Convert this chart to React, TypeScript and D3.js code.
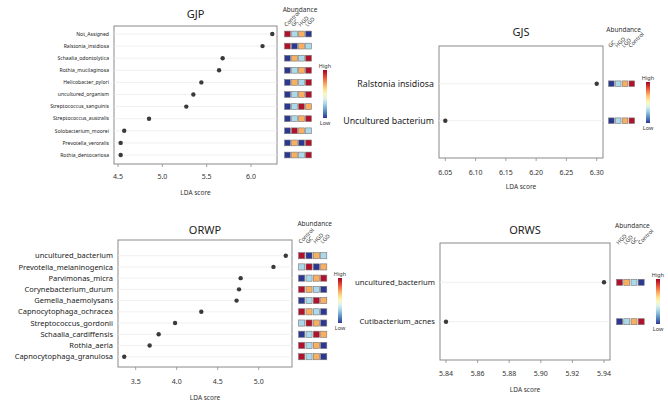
import React from 'react';
import * as d3 from 'd3';

// ---- data ----
const gjpTaxa = ['Not_Assigned', 'Ralstonia_insidiosa', 'Schaalia_odontolytica', 'Rothia_mucilaginosa', 'Helicobacter_pylori', 'uncultured_organism', 'Streptococcus_sanguinis', 'Streptococcus_australis', 'Solobacterium_moorei', 'Prevotella_veroralis', 'Rothia_dentocariosa'];
const gjpScores = [6.24, 6.13, 5.68, 5.64, 5.44, 5.35, 5.27, 4.85, 4.57, 4.53, 4.53];
const gjpGroups = ['Control', 'GC', 'HGD', 'LGD'];
const gjpLevels = [[3, 1, 2, 0], [3, 0, 2, 1], [0, 2, 1, 3], [0, 1, 2, 3], [0, 2, 1, 3], [0, 1, 2, 3], [0, 1, 3, 2], [0, 1, 2, 3], [0, 3, 2, 1], [0, 2, 0, 3], [0, 2, 1, 3]];
const gjpTicks = [4.5, 5.0, 5.5, 6.0];

const gjsTaxa = ['Ralstonia insidiosa', 'Uncultured bacterium'];
const gjsScores = [6.30, 6.05];
const gjsGroups = ['GC', 'HGD', 'LGD', 'Control'];
const gjsLevels = [[0, 1, 2, 3], [0, 1, 2, 3]];
const gjsTicks = [6.05, 6.10, 6.15, 6.20, 6.25, 6.30];

const orwpTaxa = ['uncultured_bacterium', 'Prevotella_melaninogenica', 'Parvimonas_micra', 'Corynebacterium_durum', 'Gemella_haemolysans', 'Capnocytophaga_ochracea', 'Streptococcus_gordonii', 'Schaalia_cardiffensis', 'Rothia_aeria', 'Capnocytophaga_granulosa'];
const orwpScores = [5.33, 5.18, 4.78, 4.76, 4.73, 4.30, 3.98, 3.78, 3.67, 3.36];
const orwpGroups = ['Control', 'GC', 'HGD', 'LGD'];
const orwpLevels = [[3, 0, 2, 1], [1, 3, 0, 2], [0, 1, 2, 3], [3, 2, 1, 0], [0, 1, 3, 2], [3, 2, 1, 0], [1, 3, 2, 0], [0, 1, 3, 2], [3, 1, 2, 0], [3, 1, 2, 0]];
const orwpTicks = [3.5, 4.0, 4.5, 5.0];

const orwsTaxa = ['uncultured_bacterium', 'Cutibacterium_acnes'];
const orwsScores = [5.94, 5.84];
const orwsGroups = ['HGD', 'LGD', 'GC', 'Control'];
const orwsLevels = [[3, 2, 1, 0], [0, 1, 2, 3]];
const orwsTicks = [5.84, 5.86, 5.88, 5.90, 5.92, 5.94];

const levelColors = ['#2b3790', '#abd9e9', '#f9ae60', '#b1112b'];
const FONT = '"Noto Sans", "Open Sans", sans-serif';

type PanelProps = {
  id: string, title: string, taxa: string[], scores: number[], groups: string[], levels: number[][],
  ticks: number[], fmt: string,
  box: [number, number, number, number], tickPx: [number, number], rows: [number, number],
  labelSize: number, titleY: number, heatX: number, cell: number, abundY: number, colLabelY: number,
  legend: [number, number, number], tickY: number, axisTitleY: number
}

const Legend: React.FC<{ id: string, x: number, y0: number, y1: number }> = ({ id, x, y0, y1 }) => (
  <g>
    <rect x={x} y={y0} width={4} height={y1 - y0} fill={`url(#grad-${id})`} />
    <text x={x + 2} y={y0 - 2} fontSize={5.5} textAnchor="middle" fill="#333">High</text>
    <text x={x + 2} y={y1 + 7} fontSize={5.5} textAnchor="middle" fill="#333">Low</text>
  </g>
)

const Panel: React.FC<PanelProps> = (p) => {
  const [bx0, bx1, by0, by1] = p.box
  const x = d3.scaleLinear().domain([p.ticks[0], p.ticks[p.ticks.length - 1]]).range(p.tickPx)
  const y = d3.scalePoint<string>().domain(p.taxa).range(p.rows)
  const fmt = d3.format(p.fmt)
  const heatW = p.cell * p.groups.length
  return (
    <g fontFamily={FONT}>
      <text x={(bx0 + bx1) / 2} y={p.titleY} fontSize={11} textAnchor="middle" fill="#222">{p.title}</text>
      <rect x={bx0} y={by0} width={bx1 - bx0} height={by1 - by0} fill="#fff" stroke="#8a8a8a" strokeWidth={1} />
      {p.taxa.map((t, i) => (
        <g key={t}>
          <line x1={bx0} x2={bx1} y1={y(t)} y2={y(t)} stroke="#ececec" strokeWidth={0.8} />
          <text x={bx0 - 5} y={y(t)} dy="0.35em" fontSize={p.labelSize} textAnchor="end" fill="#222">{t}</text>
          <circle cx={x(p.scores[i])} cy={y(t)} r={2.2} fill="#3a3a3a" />
          {p.levels[i].map((lv, j) => (
            <rect key={j} x={p.heatX + j * p.cell + 0.6} y={(y(t) as number) - p.cell / 2 + 0.6}
              width={p.cell - 1.2} height={p.cell - 1.2} fill={levelColors[lv]} stroke="#777" strokeWidth={0.6} />
          ))}
        </g>
      ))}
      {p.ticks.map(t => (
        <g key={t}>
          <line x1={x(t)} x2={x(t)} y1={by1} y2={by1 + 3} stroke="#8a8a8a" strokeWidth={0.8} />
          <text x={x(t)} y={p.tickY} dy="0.35em" fontSize={7} textAnchor="middle" fill="#333">{fmt(t)}</text>
        </g>
      ))}
      <text x={(bx0 + bx1) / 2} y={p.axisTitleY} dy="0.35em" fontSize={6.5} textAnchor="middle" fill="#333">LDA score</text>
      <text x={p.heatX + heatW / 2 + 2} y={p.abundY} dy="0.35em" fontSize={6.5} textAnchor="middle" fill="#333">Abundance</text>
      {p.groups.map((g, j) => (
        <text key={g} transform={`translate(${p.heatX + j * p.cell + p.cell / 2 - 1},${p.colLabelY}) rotate(-45)`}
          fontSize={5.5} fill="#333">{g}</text>
      ))}
      <Legend id={p.id} x={p.legend[0]} y0={p.legend[1]} y1={p.legend[2]} />
    </g>
  )
}

const App: React.FC = () => {
  const stops = d3.range(0, 1.0001, 0.1)
  return (
    <svg width={668} height={410} style={{ position: 'absolute', left: 0, top: 0, background: '#fff' }}>
      <defs>
        {['gjp', 'gjs', 'orwp', 'orws'].map(id => (
          <linearGradient key={id} id={`grad-${id}`} x1="0" y1="1" x2="0" y2="0">
            {stops.map(s => <stop key={s} offset={s} stopColor={d3.interpolateRdYlBu(1 - s)} />)}
          </linearGradient>
        ))}
      </defs>
      <Panel id="gjp" title="GJP" taxa={gjpTaxa} scores={gjpScores} groups={gjpGroups} levels={gjpLevels}
        ticks={gjpTicks} fmt=".1f" box={[114, 277, 26, 164]} tickPx={[118, 251]} rows={[34, 155]}
        labelSize={5.1} titleY={18} heatX={284} cell={7} abundY={10} colLabelY={27}
        legend={[323, 70, 118]} tickY={177} axisTitleY={193} />
      <Panel id="gjs" title="GJS" taxa={gjsTaxa} scores={gjsScores} groups={gjsGroups} levels={gjsLevels}
        ticks={gjsTicks} fmt=".2f" box={[439, 603, 46, 158]} tickPx={[445.3, 596.7]} rows={[83.7, 120.7]}
        labelSize={8.8} titleY={36} heatX={608} cell={6.8} abundY={30} colLabelY={48}
        legend={[646, 82, 123]} tickY={173} axisTitleY={187} />
      <Panel id="orwp" title="ORWP" taxa={orwpTaxa} scores={orwpScores} groups={orwpGroups} levels={orwpLevels}
        ticks={orwpTicks} fmt=".1f" box={[118, 292, 240, 367]} tickPx={[135.7, 258.7]} rows={[255.7, 356.7]}
        labelSize={7.5} titleY={234} heatX={298} cell={7.35} abundY={224} colLabelY={244}
        legend={[338, 278, 323]} tickY={382} axisTitleY={398} />
      <Panel id="orws" title="ORWS" taxa={orwsTaxa} scores={orwsScores} groups={orwsGroups} levels={orwsLevels}
        ticks={orwsTicks} fmt=".2f" box={[440, 610, 243, 360]} tickPx={[446, 604]} rows={[282.3, 321.7]}
        labelSize={7.7} titleY={234} heatX={616} cell={7.2} abundY={226} colLabelY={245}
        legend={[656, 279, 324]} tickY={374} axisTitleY={390} />
    </svg>
  )
}

export default App
